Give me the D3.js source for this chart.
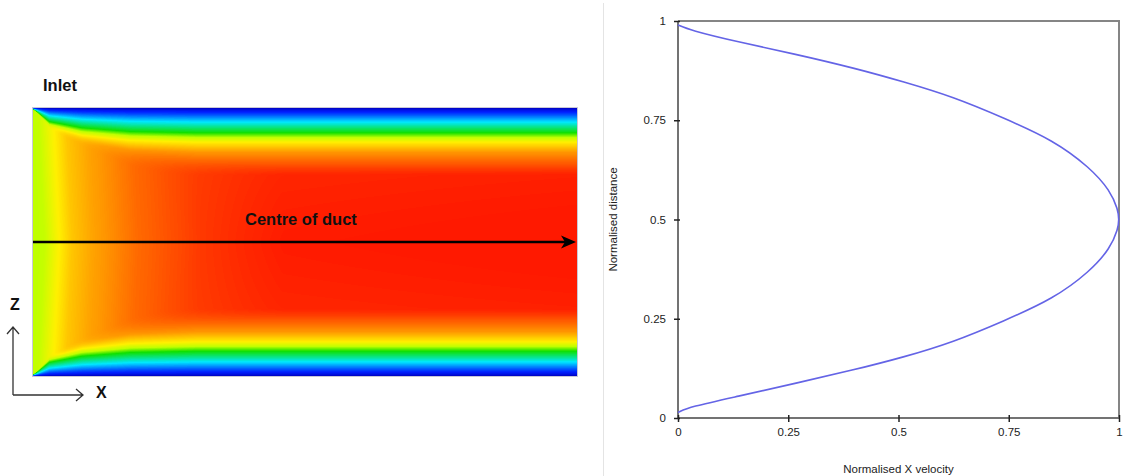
<!DOCTYPE html>
<html lang="en">
<head>
  <meta charset="UTF-8">
  <title>Duct inlet velocity – contour and normalised profile</title>
  <script src="https://d3js.org/d3.v7.min.js"></script>
  <style>
    body {
      margin: 0;
      background: #fff;
      font-family: "Liberation Sans", Arial, sans-serif;
    }
    .label-bold {
      font-weight: bold;
      fill: #111;
    }
    .tick text {
      font-size: 11.5px;
      fill: #222;
    }
    .axis-title {
      font-size: 11.5px;
      fill: #222;
    }
  </style>
</head>
<body>
  <svg id="chart" width="1123" height="476"></svg>
  <script>
    // Velocity profile across the duct
    const velocity = [0, 0.027, 0.133, 0.265, 0.405, 0.511, 0.624, 0.738, 0.851, 0.934, 0.980, 0.998, 1.0,
                      0.998, 0.980, 0.934, 0.851, 0.738, 0.624, 0.511, 0.398, 0.265, 0.133, 0.027, 0];
    const distance = [0.990, 0.977, 0.948, 0.917, 0.880, 0.847, 0.809, 0.756, 0.700, 0.631, 0.573, 0.524, 0.5,
                      0.477, 0.427, 0.369, 0.300, 0.244, 0.191, 0.153, 0.121, 0.087, 0.054, 0.028, 0.014];
    const tickValues = [0, 0.25, 0.5, 0.75, 1];

    // Contour field
    // developed band structure: distance from wall (fraction of half height) -> colour value
    const wallDist  = [0, 0.02, 0.05, 0.105, 0.185, 0.22, 0.255, 0.33, 0.5, 1];
    const wallValue = [0, 0.06, 0.12, 0.25, 0.40, 0.55, 0.65, 0.80, 0.97, 1];
    // core value along the duct (fraction of length)
    const ductStation = [0, 0.01, 0.03, 0.06, 0.10, 0.18, 0.30, 0.45, 1];
    const coreValue   = [0.55, 0.56, 0.63, 0.72, 0.78, 0.86, 0.93, 0.98, 1];
    // boundary layer growth along the duct
    const layerStation = [0, 0.007, 0.03, 0.09, 0.18, 0.30, 1];
    const layerScale   = [0.05, 0.15, 0.55, 0.80, 0.95, 1, 1];
    // colour map of the contour plot
    const colourStops = [0, 0.08, 0.25, 0.40, 0.55, 0.65, 0.80, 0.97, 1];
    const colourHex   = ["#0000c0", "#0020ff", "#00e8ff", "#10e000", "#c0ff00", "#fff000", "#ff9600", "#ff1a00", "#ff1400"];

    const svg = d3.select("#chart");

    // ---------- left panel: contour of X velocity ----------
    const duct = { x: 33, y: 108, w: 544, h: 268 };

    const profile = d3.scaleLinear().domain(wallDist).range(wallValue).clamp(true);
    const core = d3.scaleLinear().domain(ductStation).range(coreValue).clamp(true);
    const layer = d3.scaleLinear().domain(layerStation).range(layerScale).clamp(true);
    const colour = d3.scaleLinear().domain(colourStops).range(colourHex)
        .interpolate(d3.interpolateRgb).clamp(true);

    // lookup table so we don't parse colours per pixel
    const lut = d3.range(256).map(i => d3.rgb(colour(i / 255)));

    function smin(a, b, k) {
      const h = Math.max(k - Math.abs(a - b), 0) / k;
      return Math.min(a, b) - h * h * k / 4;
    }

    const canvas = document.createElement("canvas");
    canvas.width = duct.w;
    canvas.height = duct.h;
    const ctx = canvas.getContext("2d");
    const img = ctx.createImageData(duct.w, duct.h);
    for (let j = 0; j < duct.h; j++) {
      const zf = (j + 0.5) / duct.h;
      const d = 1 - Math.abs(2 * zf - 1); // 0 at wall, 1 at centre
      for (let i = 0; i < duct.w; i++) {
        const xf = (i + 0.5) / duct.w;
        const p = profile(d / layer(xf));
        const c = core(xf - 0.012 * d);
        const v = Math.max(0, Math.min(1, smin(p, c, 0.08)));
        const col = lut[Math.round(v * 255)];
        const k = (j * duct.w + i) * 4;
        img.data[k] = col.r;
        img.data[k + 1] = col.g;
        img.data[k + 2] = col.b;
        img.data[k + 3] = 255;
      }
    }
    ctx.putImageData(img, 0, 0);

    svg.append("image")
        .attr("x", duct.x)
        .attr("y", duct.y)
        .attr("width", duct.w)
        .attr("height", duct.h)
        .attr("preserveAspectRatio", "none")
        .attr("href", canvas.toDataURL());

    svg.append("rect")
        .attr("x", duct.x - 0.5)
        .attr("y", duct.y - 0.5)
        .attr("width", duct.w + 1)
        .attr("height", duct.h + 1)
        .attr("fill", "none")
        .attr("stroke", "#c8c8d8")
        .attr("stroke-width", 1);

    // centre line arrow
    const midY = duct.y + duct.h / 2;
    svg.append("line")
        .attr("x1", duct.x).attr("x2", duct.x + duct.w - 8)
        .attr("y1", midY).attr("y2", midY)
        .attr("stroke", "#000").attr("stroke-width", 2.5);
    svg.append("path")
        .attr("d", `M${duct.x + duct.w - 1},${midY} L${duct.x + duct.w - 16},${midY - 6.5} L${duct.x + duct.w - 12},${midY} L${duct.x + duct.w - 16},${midY + 6.5} Z`)
        .attr("fill", "#000");

    svg.append("text").attr("class", "label-bold")
        .attr("x", 43).attr("y", 91)
        .style("font-size", "16.5px")
        .text("Inlet");
    svg.append("text").attr("class", "label-bold")
        .attr("x", 245).attr("y", 225)
        .style("font-size", "16.5px")
        .text("Centre of duct");

    // coordinate axes marker
    const axG = svg.append("g")
        .attr("fill", "none")
        .attr("stroke", "#333")
        .attr("stroke-width", 1.3);
    axG.append("path").attr("d", "M13,395 V327 M7,334 L13,327 L19,334");
    axG.append("path").attr("d", "M13,395 H83 M76,389 L83,395 L76,401");
    svg.append("text").attr("class", "label-bold")
        .attr("x", 10).attr("y", 310)
        .style("font-size", "16px")
        .text("Z");
    svg.append("text").attr("class", "label-bold")
        .attr("x", 96).attr("y", 398)
        .style("font-size", "16px")
        .text("X");

    // separator between panels
    svg.append("line")
        .attr("x1", 603.5).attr("x2", 603.5)
        .attr("y1", 3).attr("y2", 476)
        .attr("stroke", "#e4e4e4").attr("stroke-width", 1);

    // ---------- right panel: normalised velocity profile ----------
    const plot = { left: 678, right: 1119, top: 21, bottom: 418 };
    const x = d3.scaleLinear().domain([0, 1]).range([plot.left, plot.right]);
    const y = d3.scaleLinear().domain([0, 1]).range([plot.bottom, plot.top]);

    // frame
    svg.append("path")
        .attr("d", `M${plot.left},${plot.top} H${plot.right} V${plot.bottom}`)
        .attr("fill", "none")
        .attr("stroke", "#858585")
        .attr("stroke-width", 2);
    svg.append("path")
        .attr("d", `M${plot.left},${plot.top} V${plot.bottom} H${plot.right}`)
        .attr("fill", "none")
        .attr("stroke", "#737373")
        .attr("stroke-width", 2);

    const yAxis = svg.append("g")
        .attr("transform", `translate(${plot.left},0)`)
        .call(d3.axisLeft(y).tickValues(tickValues).tickFormat(d => String(d)).tickSize(4));
    yAxis.select(".domain").remove();
    yAxis.selectAll(".tick line").attr("x1", 2).attr("x2", -4).attr("stroke", "#222").attr("stroke-width", 1.5);
    yAxis.selectAll(".tick text").attr("x", -12).style("font-family", "'Liberation Sans', Arial, sans-serif");

    const xAxis = svg.append("g")
        .attr("transform", `translate(0,${plot.bottom})`)
        .call(d3.axisBottom(x).tickValues(tickValues).tickFormat(d => String(d)).tickSize(4));
    xAxis.select(".domain").remove();
    xAxis.selectAll(".tick line").attr("y1", -3).attr("y2", 4).attr("stroke", "#222").attr("stroke-width", 1.5);
    xAxis.selectAll(".tick text").attr("y", 10).style("font-family", "'Liberation Sans', Arial, sans-serif");

    // profile curve
    const points = velocity.map((v, i) => [v, distance[i]]);
    const line = d3.line()
        .x(d => x(d[0]))
        .y(d => y(d[1]))
        .curve(d3.curveBasis);
    svg.append("path")
        .datum(points)
        .attr("d", line)
        .attr("fill", "none")
        .attr("stroke", "#6464e6")
        .attr("stroke-width", 1.6);

    // axis titles
    svg.append("text").attr("class", "axis-title")
        .attr("x", (plot.left + plot.right) / 2)
        .attr("y", 473)
        .attr("text-anchor", "middle")
        .text("Normalised X velocity");
    svg.append("text").attr("class", "axis-title")
        .attr("transform", `translate(617,${(plot.top + plot.bottom) / 2}) rotate(-90)`)
        .attr("text-anchor", "middle")
        .text("Normalised distance");
  </script>
</body>
</html>
